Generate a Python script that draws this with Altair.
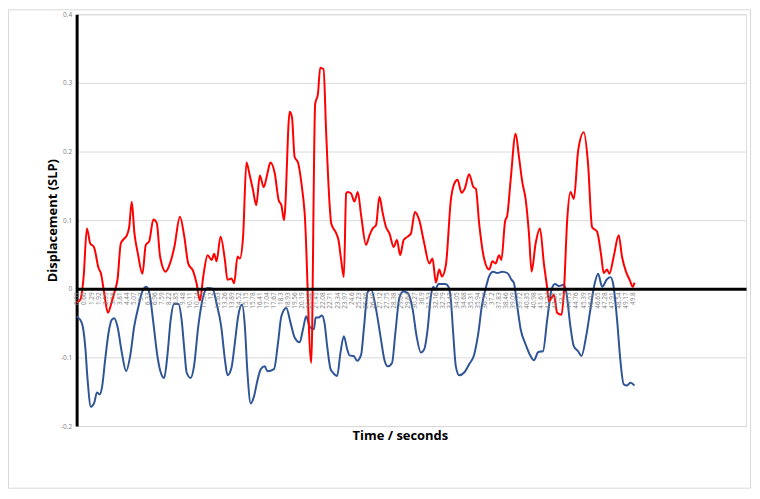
import altair as alt
import pandas as pd

# (time in s, displacement)
red_points = [
    (0.0, -0.02), (0.33, -0.016), (0.63, 0.018), (0.92, 0.088), (1.22, 0.066), (1.55, 0.061),
    (1.97, 0.03), (2.17, 0.023), (2.47, -0.006), (2.8, -0.035), (3.16, -0.018), (3.46, -0.001),
    (3.66, 0.013), (3.96, 0.066), (4.2, 0.072), (4.5, 0.078), (4.71, 0.09), (4.94, 0.127),
    (5.18, 0.081), (5.48, 0.052), (5.9, 0.022), (6.2, 0.064), (6.5, 0.069), (6.88, 0.101),
    (7.18, 0.096), (7.48, 0.047), (7.98, 0.025), (8.37, 0.037), (8.76, 0.061), (9.26, 0.105),
    (9.65, 0.076), (10.0, 0.037), (10.46, 0.025), (10.75, 0.008), (11.05, -0.017), (11.35, 0.018),
    (11.74, 0.049), (12.1, 0.042), (12.33, 0.051), (12.54, 0.04), (12.9, 0.076), (13.29, 0.042),
    (13.52, 0.013), (13.88, 0.015), (14.12, 0.008), (14.42, 0.047), (14.63, 0.044), (14.92, 0.076),
    (15.22, 0.184), (15.52, 0.165), (15.82, 0.143), (16.1, 0.122), (16.42, 0.165), (16.77, 0.148),
    (17.1, 0.168), (17.37, 0.184), (17.76, 0.168), (18.11, 0.129), (18.35, 0.122), (18.59, 0.1),
    (19.1, 0.258), (19.3, 0.25), (19.54, 0.192), (19.84, 0.184), (20.14, 0.155), (20.44, 0.11),
    (21.03, -0.108), (21.38, 0.269), (21.63, 0.284), (21.83, 0.322), (22.13, 0.32), (22.37, 0.226),
    (22.67, 0.124), (22.82, 0.095), (23.26, 0.081), (23.47, 0.071), (23.71, 0.042), (23.95, 0.017),
    (24.16, 0.139), (24.31, 0.141), (24.6, 0.139), (24.9, 0.127), (25.2, 0.141), (25.5, 0.107),
    (25.94, 0.064), (26.25, 0.078), (26.54, 0.088), (26.84, 0.093), (27.14, 0.134), (27.44, 0.11),
    (27.73, 0.09), (28.03, 0.081), (28.42, 0.061), (28.71, 0.071), (29.0, 0.049), (29.31, 0.071),
    (29.67, 0.076), (29.97, 0.081), (30.32, 0.112), (30.71, 0.1), (31.16, 0.066), (31.61, 0.037),
    (31.9, 0.044), (32.2, 0.009), (32.5, 0.028), (32.74, 0.018), (33.1, 0.035), (33.54, 0.129),
    (33.84, 0.153), (34.14, 0.159), (34.5, 0.14), (34.79, 0.146), (35.18, 0.167), (35.57, 0.148),
    (35.78, 0.146), (36.08, 0.095), (36.52, 0.044), (36.97, 0.028), (37.27, 0.04), (37.56, 0.037),
    (37.86, 0.049), (38.07, 0.042), (38.4, 0.098), (38.6, 0.107), (38.9, 0.158), (39.35, 0.226),
    (39.65, 0.192), (39.95, 0.155), (40.24, 0.131), (40.54, 0.081), (40.78, 0.025), (41.14, 0.066),
    (41.53, 0.088), (41.88, 0.037), (42.18, 0.001), (42.33, -0.018), (42.78, -0.009), (43.07, -0.035),
    (43.46, -0.038), (43.67, -0.006), (43.97, 0.1), (44.26, 0.141), (44.57, 0.131), (44.95, 0.201),
    (45.46, 0.228), (45.84, 0.182), (46.2, 0.09), (46.65, 0.083), (47.03, 0.047), (47.24, 0.023),
    (47.54, 0.028), (47.75, 0.022), (48.14, 0.047), (48.59, 0.078), (48.88, 0.047), (49.24, 0.025),
    (49.57, 0.013), (49.84, 0.003), (50.0, 0.009),
]

blue_points = [
    (0.0, -0.04), (0.47, -0.05), (0.77, -0.084), (0.98, -0.132), (1.28, -0.172), (1.58, -0.166),
    (1.82, -0.151), (2.06, -0.154), (2.27, -0.144), (2.56, -0.103), (2.86, -0.064), (3.16, -0.045),
    (3.37, -0.043), (3.66, -0.055), (4.05, -0.093), (4.44, -0.12), (4.8, -0.098), (5.16, -0.055),
    (5.54, -0.026), (5.84, -0.006), (6.23, 0.003), (6.52, -0.006), (6.88, -0.05), (7.24, -0.098),
    (7.54, -0.122), (7.84, -0.13), (8.13, -0.098), (8.43, -0.045), (8.73, -0.022), (9.12, -0.022),
    (9.41, -0.045), (9.65, -0.088), (9.86, -0.122), (10.21, -0.13), (10.52, -0.113), (10.9, -0.055),
    (11.35, -0.011), (11.74, 0.001), (12.18, 0.0), (12.54, -0.021), (12.96, -0.055), (13.29, -0.103),
    (13.52, -0.126), (13.88, -0.115), (14.18, -0.079), (14.48, -0.04), (14.83, -0.023), (15.08, -0.055),
    (15.31, -0.122), (15.61, -0.167), (15.91, -0.156), (16.2, -0.134), (16.51, -0.117), (16.86, -0.113),
    (17.1, -0.12), (17.69, -0.117), (18.05, -0.079), (18.35, -0.04), (18.79, -0.028), (19.18, -0.05),
    (19.54, -0.071), (19.99, -0.078), (20.29, -0.059), (20.58, -0.04), (20.88, -0.055), (21.27, -0.059),
    (21.42, -0.042), (21.69, -0.042), (21.98, -0.039), (22.22, -0.05), (22.46, -0.084), (22.76, -0.117),
    (22.97, -0.122), (23.35, -0.127), (23.65, -0.093), (23.95, -0.069), (24.25, -0.088), (24.46, -0.097),
    (24.84, -0.098), (25.14, -0.105), (25.5, -0.096), (25.74, -0.059), (26.1, -0.004), (26.4, -0.001),
    (26.84, -0.03), (27.28, -0.074), (27.58, -0.103), (27.88, -0.113), (28.27, -0.108), (28.57, -0.064),
    (28.93, -0.013), (29.28, -0.004), (29.67, -0.006), (30.12, -0.03), (30.47, -0.069), (30.86, -0.093),
    (31.16, -0.088), (31.46, -0.059), (31.75, -0.011), (31.97, 0.003), (32.14, -0.001), (32.44, 0.007),
    (33.04, 0.007), (33.33, 0.003), (33.54, -0.016), (33.75, -0.064), (33.99, -0.113), (34.29, -0.126),
    (34.74, -0.122), (35.18, -0.11), (35.63, -0.096), (36.01, -0.064), (36.31, -0.026), (36.67, 0.001),
    (36.97, 0.018), (37.33, 0.025), (37.71, 0.023), (38.16, 0.025), (38.6, 0.023), (38.99, 0.013),
    (39.2, 0.008), (39.5, -0.026), (39.8, -0.059), (40.24, -0.081), (40.69, -0.098), (40.99, -0.104),
    (41.38, -0.092), (41.8, -0.091), (42.18, -0.045), (42.57, -0.001), (42.87, 0.007), (43.23, 0.004),
    (43.67, 0.006), (43.9, -0.006), (44.26, -0.055), (44.57, -0.084), (44.95, -0.091), (45.25, -0.098),
    (45.67, -0.069), (46.05, -0.03), (46.44, 0.008), (46.74, 0.022), (47.1, 0.003), (47.54, 0.014),
    (47.84, 0.017), (48.08, 0.008), (48.44, -0.045), (48.73, -0.103), (49.03, -0.139), (49.33, -0.141),
    (49.63, -0.137), (50.0, -0.141),
]

series_names = ["Blue", "Red"]
series_colors = ["#2F5597", "#FF0000"]

x_tick_values = [
    0.03, 0.66, 1.29, 1.92, 2.55, 3.18, 3.81, 4.44, 5.07, 5.7,
    6.33, 6.96, 7.59, 8.22, 8.85, 9.48, 10.11, 10.74, 11.37, 12,
    12.63, 13.26, 13.89, 14.52, 15.15, 15.78, 16.41, 17.04, 17.67, 18.3,
    18.93, 19.56, 20.19, 20.82, 21.45, 22.08, 22.71, 23.34, 23.97, 24.6,
    25.23, 25.86, 26.49, 27.12, 27.75, 28.38, 29.01, 29.64, 30.27, 30.9,
    31.53, 32.16, 32.79, 33.42, 34.05, 34.68, 35.31, 35.94, 36.57, 37.2,
    37.83, 38.46, 39.09, 39.72, 40.35, 40.98, 41.61, 42.24, 42.87, 43.5,
    44.13, 44.76, 45.39, 46.02, 46.65, 47.28, 47.91, 48.54, 49.17, 49.8,
]
y_tick_values = [-0.2, -0.1, 0, 0.1, 0.2, 0.3, 0.4]
x_title = "Time / seconds"
y_title = "Displacement (SLP)"


def to_frame(points, name):
    return pd.DataFrame({
        "t": [p[0] for p in points],
        "v": [p[1] for p in points],
        "series": name,
    })


df = pd.concat([to_frame(blue_points, "Blue"), to_frame(red_points, "Red")], ignore_index=True)

W, H = 673, 414
FONT = "Open Sans"

x_axis = alt.Axis(
    values=x_tick_values,
    labelExpr="toString(datum.value)",
    labelAngle=270,
    labelFontSize=6.5,
    labelFont=FONT,
    labelColor="#7F7F7F",
    labelOverlap=False,
    labelFlush=False,
    labelBound=False,
    labelPadding=3,
    ticks=False,
    tickSize=0,
    grid=False,
    domainColor="black",
    domainWidth=3,
    offset=-138,
    title=None,
    zindex=1,
)

y_axis = alt.Axis(
    values=y_tick_values,
    labelExpr="datum.value == 0 ? '0' : toString(round(datum.value * 10) / 10)",
    labelFontSize=6.5,
    labelFont=FONT,
    labelColor="#7F7F7F",
    labelPadding=5,
    ticks=False,
    tickSize=0,
    grid=True,
    gridColor="#D9D9D9",
    gridWidth=1,
    domainColor="black",
    domainWidth=3,
    title=y_title,
    titleFont=FONT,
    titleFontSize=13,
    titleFontWeight="bold",
    titleColor="black",
    titleAngle=270,
    titleAlign="center",
    titleBaseline="bottom",
    titleX=-17,
    titleY=H / 2,
)

lines = alt.Chart(df).mark_line(strokeWidth=2, interpolate="monotone").encode(
    x=alt.X("t:Q", scale=alt.Scale(domain=[0, 60], nice=False, zero=False), axis=x_axis),
    y=alt.Y("v:Q", scale=alt.Scale(domain=[-0.2, 0.4], nice=False), axis=y_axis),
    color=alt.Color("series:N", scale=alt.Scale(domain=series_names, range=series_colors), legend=None),
)

frame_box = alt.Chart(pd.DataFrame({"a": [0]})).mark_rect(
    fill=None, stroke="#D9D9D9", strokeWidth=1
).encode(
    x=alt.value(-68.5), x2=alt.value(677.5), y=alt.value(-4.5), y2=alt.value(476.5)
)

x_title_mark = alt.Chart(pd.DataFrame({"label": [x_title]})).mark_text(
    font=FONT, fontSize=13, fontWeight="bold", color="black", align="center", baseline="middle"
).encode(
    text="label:N", x=alt.value(W / 2 - 11), y=alt.value(H + 10)
)

chart = alt.layer(frame_box, lines, x_title_mark).properties(
    width=W,
    height=H,
    autosize=alt.AutoSizeParams(type="none"),
    padding={"left": 69, "top": 5, "right": 6, "bottom": 64},
).configure_view(stroke=None).configure(background="white")

chart.save("out.html", embed_options={"renderer": "svg", "actions": False})
